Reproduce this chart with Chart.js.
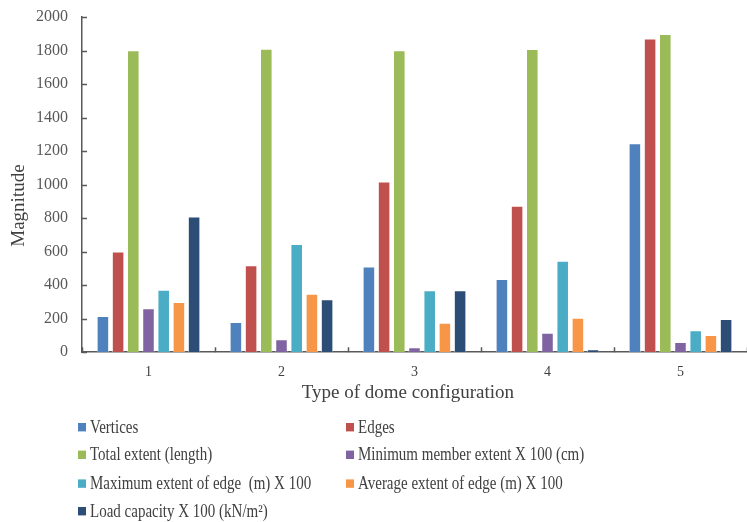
<!DOCTYPE html>
<html>
<head>
<meta charset="utf-8">
<script src="https://cdn.jsdelivr.net/npm/chart.js@4/dist/chart.umd.min.js"></script>
<style>
  html, body { margin: 0; padding: 0; background: #fff; overflow: hidden; }
  #wrap { position: relative; width: 747px; height: 522px; overflow: hidden; }
  #legend { position: absolute; left: 78px; top: 417px; width: 660px; transform-origin: 0 0; transform: scaleY(1.2);
    font-family: "Liberation Serif", "Times New Roman", serif; font-size: 15px; color: #404040; }
  .item { position: absolute; display: flex; align-items: center; white-space: pre; }
  .box { width: 8px; height: 7px; margin-right: 4px; }
</style>
</head>
<body>
<div id="wrap">
  <canvas id="c" width="747" height="522"></canvas>
  <div id="legend"></div>
</div>
<script>
const categories = ["1", "2", "3", "4", "5"];
const seriesNames = [
  "Vertices",
  "Edges",
  "Total extent (length)",
  "Minimum member extent X 100 (cm)",
  "Maximum extent of edge  (m) X 100",
  "Average extent of edge (m) X 100",
  "Load capacity X 100 (kN/m\u00B2)"
];
const vertices   = [215, 179, 510, 436, 1246];
const edges      = [600, 518, 1018, 873, 1870];
const totalExt   = [1800, 1810, 1800, 1808, 1898];
const minMember  = [261, 76, 28, 115, 60];
const maxEdge    = [371, 644, 369, 544, 130];
const avgEdge    = [299, 347, 175, 205, 102];
const loadCap    = [809, 315, 369, 16, 197];
const yTicks     = [0, 200, 400, 600, 800, 1000, 1200, 1400, 1600, 1800, 2000];
const colors = ["#4F81BD", "#C0504D", "#9BBB59", "#8064A2", "#4BACC6", "#F79646", "#2C4D75"];
const allSeries = [vertices, edges, totalExt, minMember, maxEdge, avgEdge, loadCap];
const yTitle = "Magnitude";
const xTitle = "Type of dome configuration";

const serif = "'Liberation Serif', 'Times New Roman', serif";

// inward tick marks and axis titles drawn from the scales
const innerTicks = {
  id: 'innerTicks',
  afterDatasetsDraw(chart) {
    const { ctx, scales: { x, y } } = chart;
    ctx.save();
    ctx.strokeStyle = '#595959';
    ctx.lineWidth = 1.5;
    ctx.beginPath();
    yTicks.forEach(v => {
      const py = Math.round(y.getPixelForValue(v)) + 0.5;
      ctx.moveTo(x.left, py); ctx.lineTo(x.left + 5, py);
    });
    for (let i = 0; i <= categories.length; i++) {
      const px = Math.round(x.getPixelForValue(i - 0.5)) + 0.5;
      ctx.moveTo(px, y.bottom); ctx.lineTo(px, y.bottom - 5);
    }
    ctx.stroke();
    // y axis title
    ctx.fillStyle = '#404040';
    ctx.font = "19px " + serif;
    ctx.textAlign = 'center';
    ctx.textBaseline = 'middle';
    ctx.translate(19, y.getPixelForValue(875));
    ctx.rotate(-Math.PI / 2);
    ctx.fillText(yTitle, 0, 0);
    ctx.restore();
    ctx.save();
    ctx.fillStyle = '#404040';
    ctx.font = "19px " + serif;
    ctx.textAlign = 'center';
    ctx.textBaseline = 'middle';
    ctx.fillText(xTitle, x.getPixelForValue(1.95), y.bottom + 41);
    ctx.restore();
  }
};

const chart = new Chart(document.getElementById('c'), {
  type: 'bar',
  data: {
    labels: categories,
    datasets: allSeries.map((d, i) => ({
      label: seriesNames[i],
      data: d,
      backgroundColor: colors[i],
      borderColor: 'rgba(255,255,255,0.6)',
      borderWidth: 0.8,
      barPercentage: 0.8,
      categoryPercentage: 0.8
    }))
  },
  plugins: [innerTicks],
  options: {
    responsive: false,
    animation: false,
    devicePixelRatio: 1,
    layout: { padding: { left: 8, right: -10, top: 17, bottom: 129 } },
    plugins: { legend: { display: false }, tooltip: { enabled: false } },
    scales: {
      x: {
        grid: { display: false, drawTicks: false },
        border: { display: true, color: '#595959', width: 1.5 },
        ticks: { color: '#404040', font: { family: serif, size: 14 }, padding: 12 },
        title: { display: false }
      },
      y: {
        min: 0, max: 2000,
        afterBuildTicks: (s) => { s.ticks = yTicks.map(v => ({ value: v })); },
        afterFit: (s) => { s.width = 74; s.paddingTop = 0; },
        grid: { display: false, drawTicks: false },
        border: { display: true, color: '#595959', width: 1.5 },
        ticks: { color: '#595959', font: { family: serif, size: 16 }, padding: 14, callback: (v) => String(v) },
        title: { display: false }
      }
    }
  }
});

// HTML legend in two columns built from datasets
const lg = document.getElementById('legend');
chart.data.datasets.forEach((ds, i) => {
  const el = document.createElement('div');
  el.className = 'item';
  el.style.left = (i % 2 === 0 ? 0 : 268) + 'px';
  el.style.top = (Math.floor(i / 2) * 23.4) + 'px';
  const b = document.createElement('span');
  b.className = 'box';
  b.style.background = ds.backgroundColor;
  const t = document.createElement('span');
  t.textContent = ds.label;
  el.appendChild(b); el.appendChild(t);
  lg.appendChild(el);
});
</script>
</body>
</html>
